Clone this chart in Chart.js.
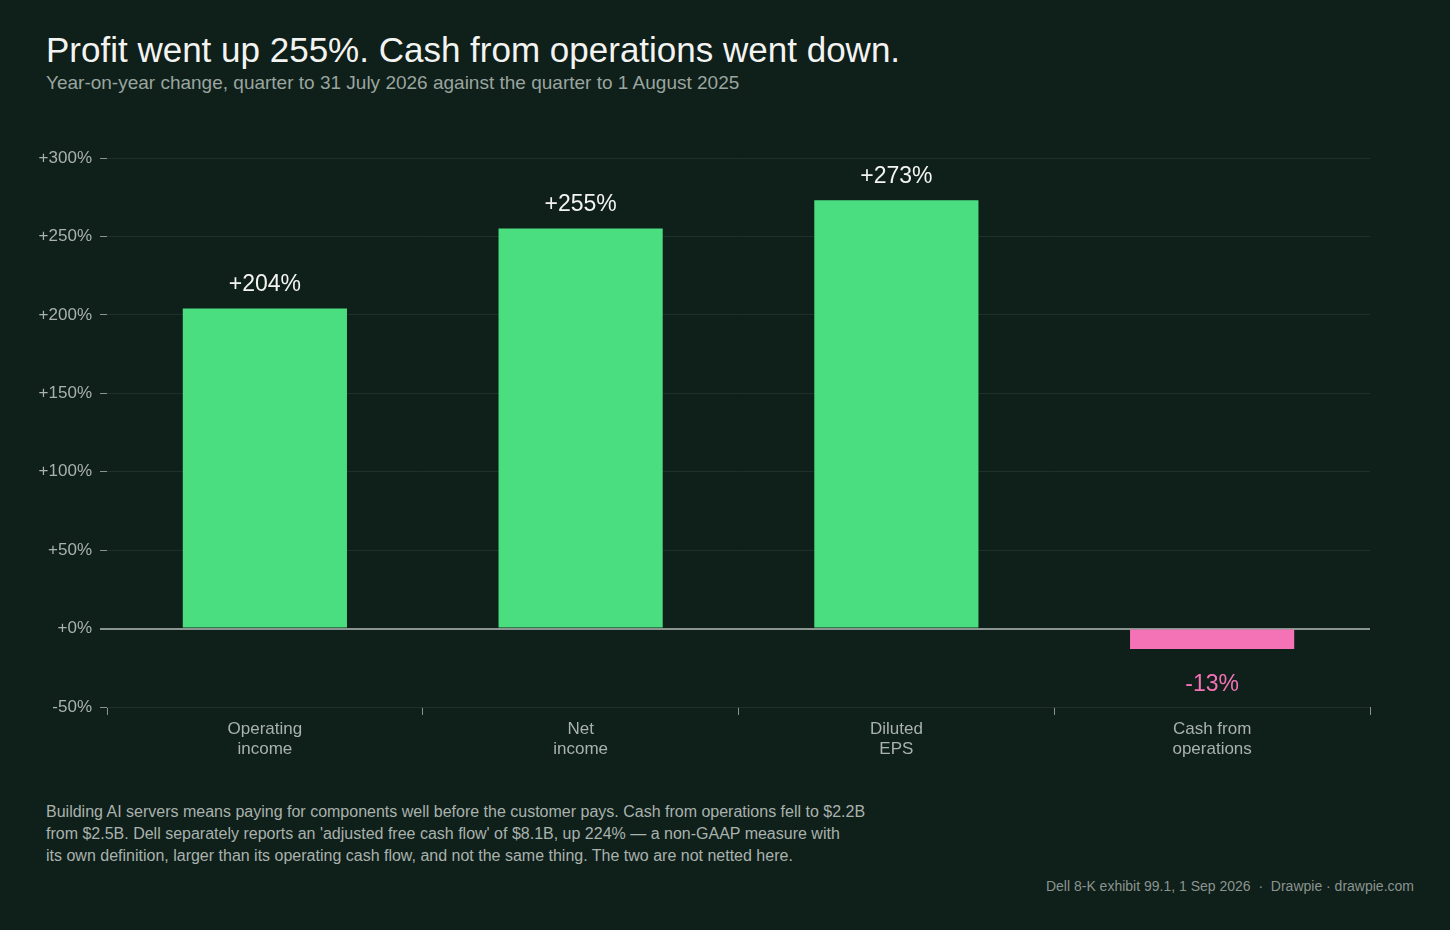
<!DOCTYPE html>
<html><head><meta charset="utf-8">
<script src="https://cdn.jsdelivr.net/npm/chart.js@4"></script>
<style>
html,body{margin:0;padding:0;background:#0f1f1a;width:1450px;height:930px;overflow:hidden;font-family:"Liberation Sans",Arial,sans-serif;}
#t{position:absolute;left:46px;top:30px;color:#f3f4f1;font-size:35px;}
#s{position:absolute;left:46px;top:72px;color:#9aa59f;font-size:19px;}
#wrap{position:absolute;left:0;top:130px;width:1450px;height:660px;}
#n{position:absolute;left:46px;top:801px;color:#a9b2ad;font-size:16px;line-height:22px;width:920px;}
#src{position:absolute;right:36px;top:878px;color:#8a948f;font-size:14px;}
</style></head><body>
<div id="t">Profit went up 255%. Cash from operations went down.</div>
<div id="s">Year-on-year change, quarter to 31 July 2026 against the quarter to 1 August 2025</div>
<div id="wrap"><canvas id="c"></canvas></div>
<div id="n">Building AI servers means paying for components well before the customer pays. Cash from operations fell to $2.2B<br>from $2.5B. Dell separately reports an 'adjusted free cash flow' of $8.1B, up 224% — a non-GAAP measure with<br>its own definition, larger than its operating cash flow, and not the same thing. The two are not netted here.</div>
<div id="src">Dell 8-K exhibit 99.1, 1 Sep 2026 &nbsp;·&nbsp; Drawpie · drawpie.com</div>
<script>
const categories=[["Operating","income"],["Net","income"],["Diluted","EPS"],["Cash from","operations"]];
const values=[204,255,273,-13];
const yTicks=[-50,0,50,100,150,200,250,300];
const POS="#4ade80",NEG="#f472b6";
const labelPlugin={id:"lbl",afterDatasetsDraw(ch){const ctx=ch.ctx;const m=ch.getDatasetMeta(0);ctx.save();ctx.font="23px 'Liberation Sans',Arial";ctx.textAlign="center";
m.data.forEach((b,i)=>{const v=values[i];if(v>=0){ctx.fillStyle="#f3f4f1";ctx.textBaseline="bottom";ctx.fillText("+"+v+"%",b.x,b.y-12);}else{ctx.fillStyle=NEG;ctx.textBaseline="top";ctx.fillText(v+"%",b.x,b.y+24);}});ctx.restore();}};
new Chart(document.getElementById("c"),{type:"bar",
data:{labels:categories,datasets:[{data:values,backgroundColor:values.map(v=>v>=0?POS:NEG),barPercentage:0.52,categoryPercentage:1}]},
options:{responsive:true,maintainAspectRatio:false,animation:false,
layout:{padding:{top:28,right:80,left:0,bottom:0}},
plugins:{legend:{display:false},tooltip:{enabled:false}},
scales:{
x:{grid:{display:true,drawOnChartArea:false,color:"#8a948f",tickLength:8},border:{display:false},
ticks:{color:"#a9b2ad",font:{size:17,family:"'Liberation Sans',Arial"},padding:4},
afterFit(s){s.height=83;}},
y:{min:-50,max:300,afterBuildTicks(s){s.ticks=yTicks.map(v=>({value:v}));},
grid:{color:c=>c.tick&&c.tick.value===0?"#8c9690":"#1f302a",lineWidth:c=>c.tick&&c.tick.value===0?2:1,tickColor:"#8a948f",tickLength:7},
border:{display:false},
ticks:{color:"#a9b2ad",font:{size:17,family:"'Liberation Sans',Arial"},padding:8,callback:v=>(v>=0?"+":"")+v+"%"},
afterFit(s){s.width=107;}}}},
plugins:[labelPlugin]});
</script></body></html>
